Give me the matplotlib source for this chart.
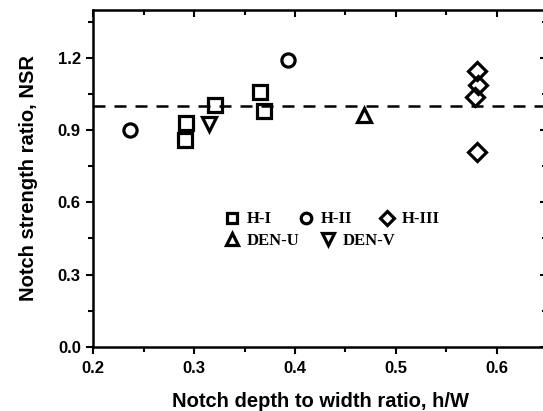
import matplotlib.pyplot as plt
from matplotlib.ticker import MultipleLocator

# data
h1_x = [0.291, 0.292, 0.321, 0.365, 0.369]
h1_y = [0.859, 0.930, 1.007, 1.060, 0.980]
h2_x = [0.236, 0.393]
h2_y = [0.899, 1.190]
h3_x = [0.581, 0.582, 0.579, 0.581]
h3_y = [1.147, 1.088, 1.039, 0.809]
denu_x = [0.468]
denu_y = [0.963]
denv_x = [0.315]
denv_y = [0.926]

plt.rcParams['font.family'] = ['Liberation Sans', 'DejaVu Sans']
plt.rcParams['font.weight'] = 'bold'

fig = plt.figure(figsize=(5.43, 4.11), dpi=100)
ax = fig.add_axes([0.1718, 0.1564, 0.8356, 0.8193])

mk = dict(linestyle='none', markerfacecolor='none', markeredgecolor='black',
          markersize=9.5, markeredgewidth=2.3, clip_on=False)
ax.axhline(1.0, color='black', lw=1.8, dashes=(4.8, 3.6), zorder=1)
p1, = ax.plot(h1_x, h1_y, marker='s', label='H-I', **mk)
p2, = ax.plot(h2_x, h2_y, marker='o', label='H-II', **mk)
p3, = ax.plot(h3_x, h3_y, marker='D', label='H-III', **dict(mk, markersize=9))
p4, = ax.plot(denu_x, denu_y, marker='^', label='DEN-U', **dict(mk, markersize=10.5))
p5, = ax.plot(denv_x, denv_y, marker='v', label='DEN-V', **dict(mk, markersize=10.5))

ax.set_xlim(0.2, 0.65)
ax.set_ylim(0.0, 1.4)
ax.set_xticks([0.2, 0.3, 0.4, 0.5, 0.6])
ax.xaxis.set_minor_locator(MultipleLocator(0.05))
ax.yaxis.set_major_locator(MultipleLocator(0.3))
ax.yaxis.set_minor_locator(MultipleLocator(0.15))
ax.tick_params(which='both', direction='out', width=1.5, labelsize=12)
ax.tick_params(which='major', length=5)
ax.tick_params(which='minor', length=3.5)
ax.tick_params(axis='x', which='major', pad=5)
ax.tick_params(axis='y', which='major', pad=4)
for sp in ax.spines.values():
    sp.set_linewidth(1.8)

# inward ticks on top and right
ax2 = ax.secondary_xaxis('top')
ax2.set_xticks([0.2, 0.3, 0.4, 0.5, 0.6])
ax2.xaxis.set_minor_locator(MultipleLocator(0.05))
ax2.tick_params(which='both', direction='in', width=1.5, labeltop=False)
ax2.tick_params(which='major', length=5)
ax2.tick_params(which='minor', length=3.5)
ax3 = ax.secondary_yaxis('right')
ax3.yaxis.set_major_locator(MultipleLocator(0.3))
ax3.yaxis.set_minor_locator(MultipleLocator(0.15))
ax3.tick_params(which='both', direction='in', width=1.5, labelright=False)
ax3.tick_params(which='major', length=5)
ax3.tick_params(which='minor', length=3.5)

ax.set_xlabel('Notch depth to width ratio, h/W', fontsize=14.5, fontweight='bold', labelpad=12)
ax.set_ylabel('Notch strength ratio, NSR', fontsize=14.5, fontweight='bold', labelpad=14)

lg_font = {'family': 'Liberation Serif', 'weight': 'bold', 'size': 12}
leg1 = ax.legend(handles=[p1, p2, p3], ncol=3, frameon=False, prop=lg_font,
                 loc='center left', bbox_to_anchor=(0.291, 0.378),
                 handlelength=0.8, handletextpad=0.5, columnspacing=1.65,
                 markerscale=0.8, borderpad=0, borderaxespad=0)
ax.add_artist(leg1)
ax.legend(handles=[p4, p5], ncol=2, frameon=False, prop=lg_font,
          loc='center left', bbox_to_anchor=(0.291, 0.315),
          handlelength=0.8, handletextpad=0.5, columnspacing=1.3,
          markerscale=0.8, borderpad=0, borderaxespad=0)

fig.savefig('out.png', dpi=100)
